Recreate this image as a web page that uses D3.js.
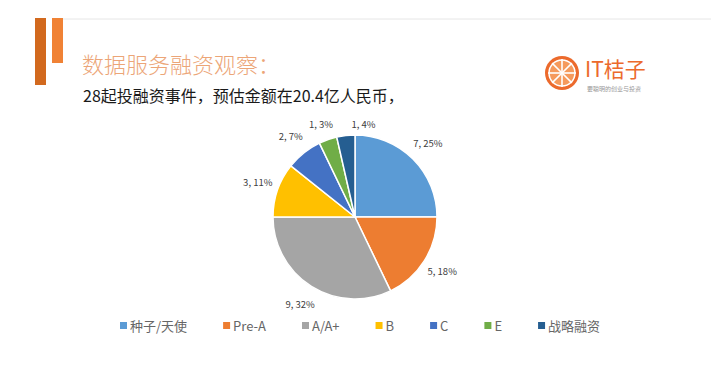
<!DOCTYPE html>
<html>
<head>
<meta charset="utf-8">
<script src="https://cdn.jsdelivr.net/npm/d3@7"></script>
<style>
  body { margin: 0; background: #fff; }
  svg text { font-family: "Noto Sans CJK SC", "Noto Sans", sans-serif; }
</style>
</head>
<body>
<div id="chart"></div>
<script>
  // chart data
  const categories = ["种子/天使", "Pre-A", "A/A+", "B", "C", "E", "战略融资"];
  const counts = [7, 5, 9, 3, 2, 1, 1];
  const percentLabels = ["25%", "18%", "32%", "11%", "7%", "3%", "4%"];
  const colors = ["#5b9bd5", "#ed7d31", "#a5a5a5", "#ffc000", "#4472c4", "#70ad47", "#255e91"];

  const titleText = "数据服务融资观察：";
  const subtitleText = "28起投融资事件，预估金额在20.4亿人民币，";

  const width = 711, height = 375;

  const svg = d3.select("#chart").append("svg")
    .attr("width", width)
    .attr("height", height);

  // slide decoration
  svg.append("line")
    .attr("x1", 63).attr("x2", width).attr("y1", 19).attr("y2", 19)
    .style("stroke", "#e6e6e6").style("stroke-width", 1);
  svg.append("rect").attr("x", 35).attr("y", 18).attr("width", 11).attr("height", 67)
    .style("fill", "#d2691e");
  svg.append("rect").attr("x", 52).attr("y", 18).attr("width", 11).attr("height", 45)
    .style("fill", "#f08235");

  svg.append("text")
    .attr("x", 82).attr("y", 73)
    .style("font-size", "22px")
    .style("font-weight", 300)
    .style("fill", "#eca577")
    .text(titleText);

  svg.append("text")
    .attr("x", 83).attr("y", 102)
    .style("font-size", "16px")
    .style("fill", "#1a1a1a")
    .text(subtitleText);

  // logo
  let logo = svg.append("g").attr("transform", "translate(562,73)");
  logo.append("circle").attr("r", 17).style("fill", "#ec6a2c");
  logo.append("circle").attr("r", 13).style("fill", "#f59a5c");
  d3.range(8).forEach(i => {
    let a = i * Math.PI / 4;
    logo.append("line")
      .attr("x1", 0).attr("y1", 0)
      .attr("x2", 14 * Math.sin(a)).attr("y2", -14 * Math.cos(a))
      .style("stroke", "#fff").style("stroke-width", 1.6);
  });
  logo.append("circle").attr("r", 13).style("fill", "none").style("stroke", "#fff").style("stroke-width", 1.5);
  svg.append("text")
    .attr("x", 585).attr("y", 77)
    .style("font-size", "21px")
    .style("fill", "#ec6a2c")
    .text("IT桔子");
  svg.append("text")
    .attr("x", 587).attr("y", 91)
    .style("font-size", "6px")
    .style("fill", "#999")
    .text("要聪明的创业与投资");

  // pie
  const cx = 355, cy = 217, radius = 82;
  const pie = d3.pie().sort(null).value(d => d);
  const arcs = pie(counts);
  const arc = d3.arc().innerRadius(0).outerRadius(radius);
  const labelArc = d3.arc().innerRadius(103).outerRadius(103);

  let g = svg.append("g").attr("transform", `translate(${cx},${cy})`);
  g.selectAll("path.slice")
    .data(arcs)
    .join("path")
    .attr("class", "slice")
    .attr("d", arc)
    .style("fill", (d, i) => colors[i])
    .style("stroke", "#fff")
    .style("stroke-width", 1.5);

  // small nudge so the two tiny slices' labels don't collide (like excel does)
  let nudge = (i) => i === categories.length - 1 ? [20, 10] : (i === categories.length - 2 ? [0, 5] : [0, 0]);

  g.selectAll("text.lbl")
    .data(arcs)
    .join("text")
    .attr("class", "lbl")
    .attr("transform", (d, i) => {
      let c = labelArc.centroid(d), n = nudge(i);
      return `translate(${c[0] + n[0]},${c[1] + n[1]})`;
    })
    .attr("text-anchor", "middle")
    .attr("dy", "0.35em")
    .style("font-size", "9.5px")
    .style("fill", "#404040")
    .text((d, i) => `${counts[i]}, ${percentLabels[i]}`);

  // legend
  let legend = svg.append("g").attr("transform", "translate(120,326)");
  let x = 0;
  categories.forEach((c, i) => {
    let item = legend.append("g").attr("transform", `translate(${x},0)`);
    item.append("rect")
      .attr("x", 0).attr("y", -4).attr("width", 7).attr("height", 7)
      .style("fill", colors[i]);
    let t = item.append("text")
      .attr("x", 10).attr("dy", "0.35em")
      .style("font-size", "13px")
      .style("fill", "#666")
      .text(c);
    x += 10 + t.node().getComputedTextLength() + 36;
  });
</script>
</body>
</html>
